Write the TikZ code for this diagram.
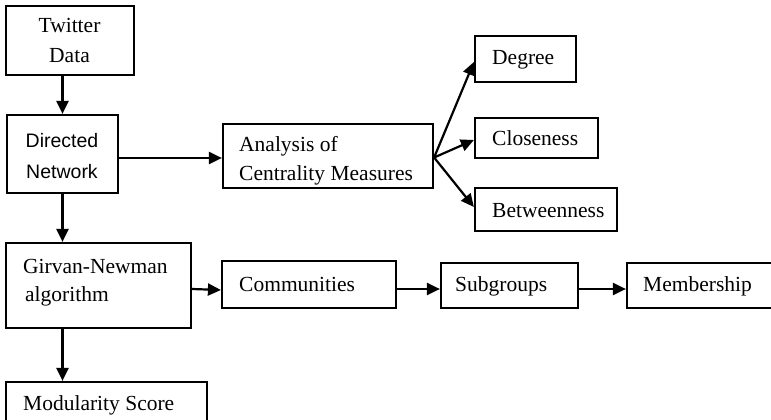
\documentclass[tikz,border=0pt]{standalone}
\usepackage{fontspec}
\setmainfont{Liberation Serif}
\newfontfamily\dnfont{Liberation Sans}
\usetikzlibrary{arrows.meta}
\begin{document}
\begin{tikzpicture}[x=1pt,y=-1pt,
  box/.style={draw=black, line width=2.2pt, inner sep=0pt},
  lbl/.style={anchor=base west, inner sep=0pt, font=\fontsize{21.5}{26}\selectfont},
  clbl/.style={anchor=base, inner sep=0pt, font=\fontsize{21.5}{26}\selectfont},
  slbl/.style={anchor=base, inner sep=0pt, font=\dnfont\fontsize{19.5}{23}\selectfont},
  arr/.style={line width=2.2pt, -{Triangle[length=13pt,width=12pt]}}]
\useasboundingbox (0,0) rectangle (771,420);
\clip (0,0) rectangle (771,420);
% boxes
\node[box, minimum width=128pt, minimum height=69pt] (tw) at (70,40.5) {};
\node[box, minimum width=111pt, minimum height=78pt] (dn) at (62.5,154) {};
\node[box, minimum width=210pt, minimum height=64pt] (an) at (328,156) {};
\node[box, minimum width=101pt, minimum height=46pt] (deg) at (525.5,59) {};
\node[box, minimum width=123pt, minimum height=40pt] (clo) at (536.5,138) {};
\node[box, minimum width=142pt, minimum height=43pt] (bet) at (546,209.5) {};
\node[box, minimum width=185pt, minimum height=85pt] (gn) at (98.5,285.5) {};
\node[box, minimum width=174pt, minimum height=47pt] (com) at (309,284.5) {};
\node[box, minimum width=137pt, minimum height=45pt] (sub) at (509.5,285.5) {};
\node[box, minimum width=150pt, minimum height=45pt] (mem) at (702,285.5) {};
\node[box, minimum width=201pt, minimum height=50pt] (mod) at (106.5,407) {};
% texts
\node[clbl] (twa) at (69.5,33) {Twitter};
\node[clbl] (twb) at (69.5,63) {Data};
\node[slbl] (dna) at (62,147) {Directed};
\node[slbl] (dnb) at (62,178) {Network};
\node[lbl] (ana) at (239,151) {Analysis of};
\node[lbl] (anb) at (239,180) {Centrality Measures};
\node[lbl] (dega) at (492,65) {Degree};
\node[lbl] (cloa) at (492,145) {Closeness};
\node[lbl] (beta) at (492,217) {Betweenness};
\node[lbl] (gna) at (23,273) {Girvan-Newman};
\node[lbl] (gnb) at (25,301) {algorithm};
\node[lbl] (coma) at (239,291) {Communities};
\node[lbl] (suba) at (455,291) {Subgroups};
\node[lbl] (mema) at (643,291) {Membership};
\node[lbl] (moda) at (23,410) {Modularity Score};
% connectors
\draw[arr] (tw.south -| dn.north) -- (dn.north);
\draw[arr] (dn.south) -- (dn.south |- gn.north);
\draw[arr] (dn.south |- gn.south) -- (dn.south |- mod.north);
\draw[arr] ([yshift=-4pt]dn.east) -- ([yshift=-4pt]dn.east -| an.west);
\draw[arr] ([yshift=-1.5pt]an.east) -- ([yshift=-3pt]deg.west);
\draw[arr] ([yshift=-1.5pt]an.east) -- ([yshift=-2pt]clo.west);
\draw[arr] ([yshift=-1.5pt]an.east) -- ([yshift=2.5pt]bet.west);
\draw[arr] ([yshift=-3.5pt]gn.east) -- ([yshift=-5.5pt]com.west);
\draw[arr] ([yshift=-4.5pt]com.east) -- ([yshift=-4.5pt]com.east -| sub.west);
\draw[arr] ([yshift=-3.5pt]sub.east) -- ([yshift=-3.5pt]sub.east -| mem.west);
\end{tikzpicture}
\end{document}
